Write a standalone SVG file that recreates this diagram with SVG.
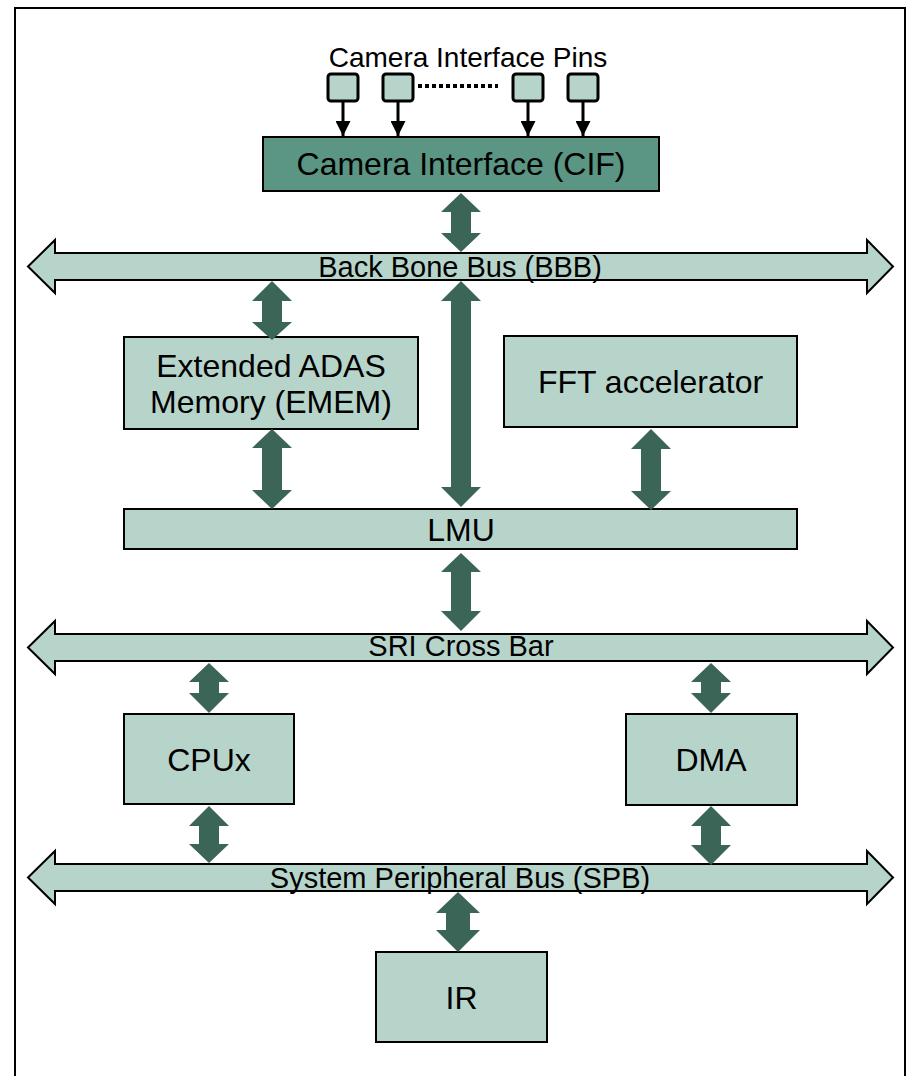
<svg xmlns="http://www.w3.org/2000/svg" width="912" height="1076" viewBox="0 0 912 1076">
<style>
.box{fill:#b7d4cb;stroke:#000;stroke-width:2}
.cif{fill:#5a9683;stroke:#000;stroke-width:2}
.bus{fill:#b7d4cb;stroke:#000;stroke-width:2}
.dbl{fill:#3b6557}
.pin{fill:#b7d4cb;stroke:#000;stroke-width:3}
.pinarrow{stroke:#000;stroke-width:3;fill:none}
text{font-family:"Liberation Sans",Arial,sans-serif;fill:#000;text-anchor:middle}
.t32{font-size:32px}
.t28{font-size:29px}
</style>
<defs>
<marker id="ah" markerWidth="5" markerHeight="5" refX="5" refY="2.5" orient="auto" markerUnits="strokeWidth">
<path d="M0,0 L5,2.5 L0,5 Z" fill="#000"/>
</marker>
</defs>
<rect x="15" y="8" width="890" height="1090" fill="#fff" stroke="#000" stroke-width="2"/>

<g id="pins">
<text x="468" y="67" style="font-size:28px">Camera Interface Pins</text>
<rect class="pin" x="328" y="74" width="30" height="27" rx="3"/>
<rect class="pin" x="383" y="74" width="30" height="27" rx="3"/>
<rect class="pin" x="513" y="74" width="30" height="27" rx="3"/>
<rect class="pin" x="568" y="74" width="30" height="27" rx="3"/>
<line x1="418" y1="86" x2="498" y2="86" stroke="#000" stroke-width="4" stroke-dasharray="4 3"/>
</g>

<g id="cif">
<rect class="cif" x="263" y="137" width="396" height="54"/>
<text class="t32" x="461" y="175">Camera Interface (CIF)</text>
</g>

<g id="bbb">
<polygon class="bus" points="28,266.5 55,240 55,253 867,253 867,240 893,266.5 867,293 867,280 55,280 55,293"/>
<text class="t28" x="460" y="277">Back Bone Bus (BBB)</text>
</g>

<g id="ememory">
<rect class="box" x="124" y="337" width="294" height="92"/>
<text class="t32" x="271" y="377">Extended ADAS</text>
<text class="t32" x="271" y="413">Memory (EMEM)</text>
</g>

<g id="fft">
<rect class="box" x="504" y="336" width="293" height="91"/>
<text class="t32" x="650.5" y="393">FFT accelerator</text>
</g>

<g id="lmu">
<rect class="box" x="124" y="509" width="673" height="40"/>
<text class="t32" x="461" y="541">LMU</text>
</g>

<g id="sri">
<polygon class="bus" points="28,647.5 55,621 55,634 867,634 867,621 893,647.5 867,674 867,661 55,661 55,674"/>
<text class="t28" x="461" y="656">SRI Cross Bar</text>
</g>

<g id="cpux">
<rect class="box" x="124" y="714" width="170" height="90"/>
<text class="t32" x="209" y="771">CPUx</text>
</g>

<g id="dma">
<rect class="box" x="626" y="714" width="171" height="91"/>
<text class="t32" x="711" y="771">DMA</text>
</g>

<g id="spb">
<polygon class="bus" points="28,877.5 55,851 55,864 867,864 867,851 893,877.5 867,904 867,891 55,891 55,904"/>
<text class="t28" x="460" y="888">System Peripheral Bus (SPB)</text>
</g>

<g id="ir">
<rect class="box" x="376" y="952" width="171" height="90"/>
<text class="t32" x="461.5" y="1009">IR</text>
</g>

<g id="connectors">
<line class="pinarrow" x1="343" y1="102" x2="343" y2="136" marker-end="url(#ah)"/>
<line class="pinarrow" x1="398" y1="102" x2="398" y2="136" marker-end="url(#ah)"/>
<line class="pinarrow" x1="528" y1="102" x2="528" y2="136" marker-end="url(#ah)"/>
<line class="pinarrow" x1="583" y1="102" x2="583" y2="136" marker-end="url(#ah)"/>
<polygon class="dbl" points="461,193 481,212 471,212 471,233 481,233 461,252 441,233 451,233 451,212 441,212"/>
<polygon class="dbl" points="272,281 292,301 282,301 282,322 292,322 272,340 252,322 262,322 262,301 252,301"/>
<polygon class="dbl" points="272,429 292,448 282,448 282,490 292,490 272,509 252,490 262,490 262,448 252,448"/>
<polygon class="dbl" points="461,281 481,301 471,301 471,487 481,487 461,507 441,487 451,487 451,301 441,301"/>
<polygon class="dbl" points="651,429 671,449 661,449 661,491 671,491 651,510 631,491 641,491 641,449 631,449"/>
<polygon class="dbl" points="461,553 481,572 471,572 471,611 481,611 461,631 441,611 451,611 451,572 441,572"/>
<polygon class="dbl" points="209,663 229,682 219,682 219,693 229,693 209,713 189,693 199,693 199,682 189,682"/>
<polygon class="dbl" points="711,663 731,682 721,682 721,693 731,693 711,713 691,693 701,693 701,682 691,682"/>
<polygon class="dbl" points="209,806 229,826 219,826 219,844 229,844 209,863 189,844 199,844 199,826 189,826"/>
<polygon class="dbl" points="711,806 731,826 721,826 721,845 731,845 711,865 691,845 701,845 701,826 691,826"/>
<polygon class="dbl" points="458,892 480,913 470,913 470,930 480,930 458,952 436,930 446,930 446,913 436,913"/>
</g>
</svg>
